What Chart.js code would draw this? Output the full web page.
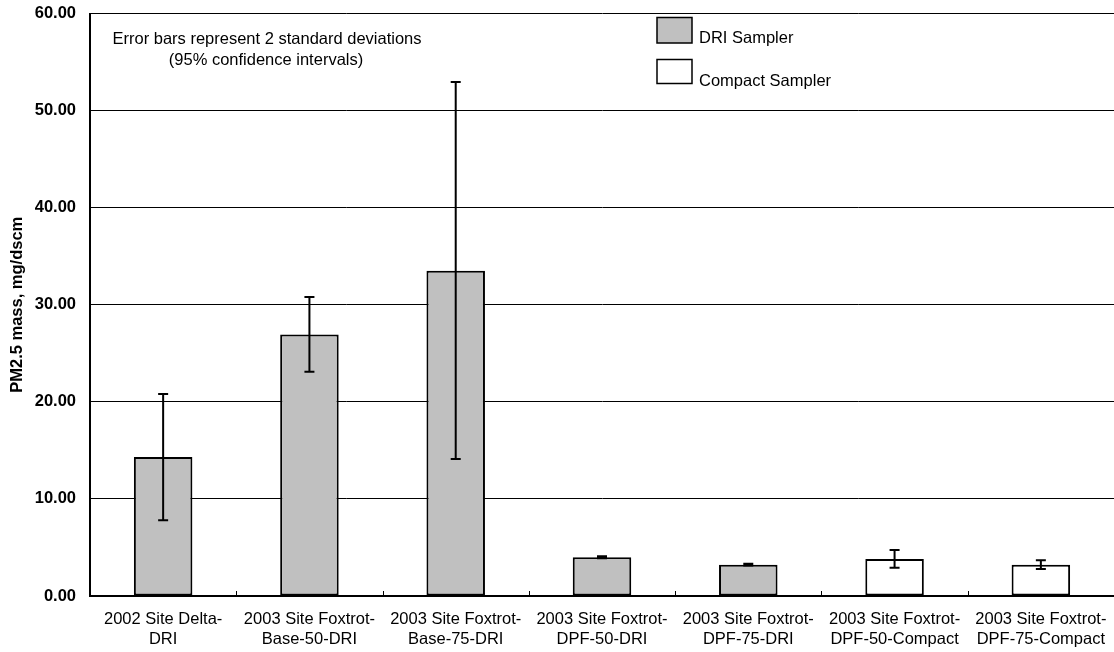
<!DOCTYPE html>
<html>
<head>
<meta charset="utf-8">
<script src="https://cdn.jsdelivr.net/npm/chart.js@4.4.1/dist/chart.umd.min.js"></script>
<style>
  html, body { margin: 0; padding: 0; background: #ffffff; }
  #wrap { width: 1114px; height: 652px; }
</style>
</head>
<body>
<div id="wrap"><canvas id="chart" width="1114" height="652"></canvas></div>
<script>
// Sampling runs (two-line category labels)
const categories = [
  ["2002 Site Delta-", "DRI"],
  ["2003 Site Foxtrot-", "Base-50-DRI"],
  ["2003 Site Foxtrot-", "Base-75-DRI"],
  ["2003 Site Foxtrot-", "DPF-50-DRI"],
  ["2003 Site Foxtrot-", "DPF-75-DRI"],
  ["2003 Site Foxtrot-", "DPF-50-Compact"],
  ["2003 Site Foxtrot-", "DPF-75-Compact"]
];

// Mean PM2.5 mass (mg/dscm) per sampler
const driMass     = [14.33, 26.94, 33.50, 3.99, 3.23, null, null];
const compactMass = [null, null, null, null, null, 3.81, 3.23];

// Error bar limits (mean +/- 2 standard deviations)
const errLow  = [7.80, 23.10, 14.10, 3.90, 3.13, 2.92, 2.78];
const errHigh = [20.80, 30.80, 52.95, 4.09, 3.33, 4.74, 3.68];

// Value axis ticks
const yTicks = [0, 10, 20, 30, 40, 50, 60];

const noteLines = [
  "Error bars represent 2 standard deviations",
  "(95% confidence intervals)"
];

const FONT = "'Liberation Sans', Arial, sans-serif";

// Whiskers drawn from errLow / errHigh through the value scale
const errorBarPlugin = {
  id: "errorBars",
  afterDatasetsDraw(chart) {
    const ctx = chart.ctx;
    const y = chart.scales.y;
    const x = chart.scales.x;
    ctx.save();
    ctx.strokeStyle = "#000000";
    ctx.lineWidth = 2;
    for (let i = 0; i < categories.length; i++) {
      const px = x.getPixelForValue(i);
      const yl = y.getPixelForValue(errLow[i]);
      const yh = y.getPixelForValue(errHigh[i]);
      const cap = 5;
      ctx.beginPath();
      ctx.moveTo(px, yl); ctx.lineTo(px, yh);
      ctx.moveTo(px - cap, yl); ctx.lineTo(px + cap, yl);
      ctx.moveTo(px - cap, yh); ctx.lineTo(px + cap, yh);
      ctx.stroke();
    }
    ctx.restore();
  }
};

// Category separator ticks on the bottom axis, legend and note text
const decorPlugin = {
  id: "decor",
  afterDraw(chart) {
    const ctx = chart.ctx;
    const x = chart.scales.x;
    const area = chart.chartArea;
    ctx.save();
    // separator ticks pointing into the plot
    ctx.strokeStyle = "#000000";
    ctx.lineWidth = 1;
    for (let i = 1; i < categories.length; i++) {
      const bx = Math.round((x.getPixelForValue(i) + x.getPixelForValue(i - 1)) / 2) + 0.5;
      ctx.beginPath();
      ctx.moveTo(bx, area.bottom);
      ctx.lineTo(bx, area.bottom - 5);
      ctx.stroke();
    }

    // legend
    const items = chart.data.datasets;
    const boxX = 657, boxW = 35;
    const boxY = [17.5, 59.5], boxH = [25.5, 24];
    const textY = [38.5, 81.5];
    ctx.font = "16.5px " + FONT;
    ctx.textBaseline = "middle";
    ctx.textAlign = "left";
    items.forEach((ds, k) => {
      ctx.fillStyle = ds.backgroundColor;
      ctx.fillRect(boxX, boxY[k], boxW, boxH[k]);
      ctx.strokeStyle = "#000000";
      ctx.lineWidth = 1.5;
      ctx.strokeRect(boxX, boxY[k], boxW, boxH[k]);
      ctx.fillStyle = "#000000";
      ctx.fillText(ds.label, 699, textY[k]);
    });

    // note
    ctx.textAlign = "center";
    ctx.fillText(noteLines[0], 267, 39.5);
    ctx.fillText(noteLines[1], 266, 60);
    ctx.restore();
  }
};

new Chart(document.getElementById("chart"), {
  type: "bar",
  data: {
    labels: categories,
    datasets: [
      {
        label: "DRI Sampler",
        data: driMass,
        backgroundColor: "#c0c0c0",
        borderColor: "#000000",
        borderWidth: 2,
        borderSkipped: false,
        barPercentage: 0.4,
        categoryPercentage: 1.0
      },
      {
        label: "Compact Sampler",
        data: compactMass,
        backgroundColor: "#ffffff",
        borderColor: "#000000",
        borderWidth: 2,
        borderSkipped: false,
        barPercentage: 0.4,
        categoryPercentage: 1.0
      }
    ]
  },
  options: {
    responsive: false,
    devicePixelRatio: 1,
    animation: false,
    layout: { padding: { top: 13.5, right: 0, bottom: 0, left: 0 }, autoPadding: false },
    plugins: {
      legend: { display: false },
      tooltip: { enabled: false }
    },
    scales: {
      x: {
        stacked: true,
        offset: true,
        grid: { display: false, drawTicks: false },
        border: { display: true, color: "#000000", width: 2 },
        ticks: {
          color: "#000000",
          font: { family: FONT, size: 16.5, lineHeight: "20px" },
          padding: 13,
          maxRotation: 0,
          autoSkip: false
        },
        afterFit(scale) {
          scale.height = 56;
          scale.paddingLeft = 0;
          scale.paddingRight = 0;
        }
      },
      y: {
        min: 0,
        max: 60,
        afterBuildTicks(scale) { scale.ticks = yTicks.map(v => ({ value: v })); },
        ticks: {
          color: "#000000",
          font: { family: FONT, size: 16.5, weight: "bold" },
          padding: 14,
          callback: v => Number(v).toFixed(2)
        },
        grid: { color: "#000000", lineWidth: 1, drawTicks: false },
        border: { display: true, color: "#000000", width: 2 },
        title: {
          display: true,
          text: "PM2.5 mass, mg/dscm",
          color: "#000000",
          font: { family: FONT, size: 16.5, weight: "bold" },
          padding: { top: 8, bottom: 0 }
        },
        afterFit(scale) {
          scale.width = 90;
          scale.paddingTop = 0;
          scale.paddingBottom = 0;
        }
      }
    }
  },
  plugins: [errorBarPlugin, decorPlugin]
});
</script>
</body>
</html>
